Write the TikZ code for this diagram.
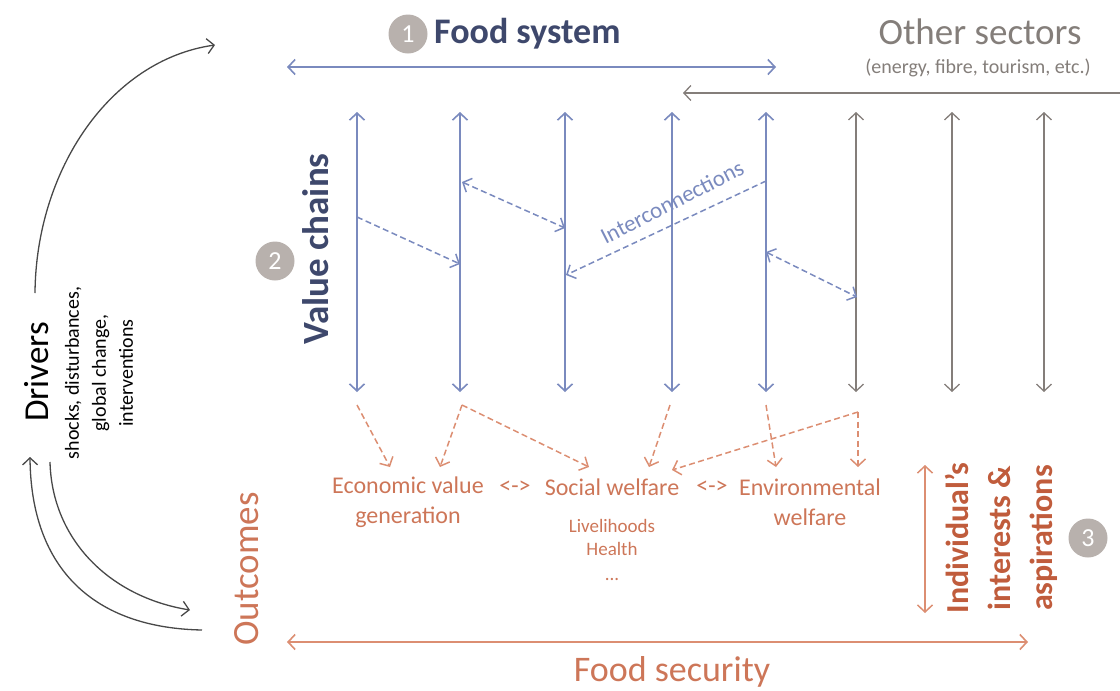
\documentclass[tikz,border=0pt]{standalone}
\usepackage{fontspec}
\setmainfont{Carlito}
\usetikzlibrary{arrows.meta}
\definecolor{cblue}{RGB}{122,138,190}
\definecolor{dblue}{RGB}{62,72,108}
\definecolor{cgray}{RGB}{132,126,122}
\definecolor{cgrayfill}{RGB}{184,177,173}
\definecolor{corange}{RGB}{220,142,114}
\definecolor{otext}{RGB}{205,118,88}
\definecolor{ored}{RGB}{192,92,60}
\definecolor{cdark}{RGB}{72,72,72}
\newcommand{\fsz}[2]{\fontsize{#1}{#2}\selectfont}
\begin{document}
\begin{tikzpicture}[x=1pt,y=-1pt,
  >={Straight Barb[length=7pt,width=15pt]},
  txt/.style={inner sep=0pt},
  num/.style={circle,fill=cgrayfill,minimum size=39pt,inner sep=0pt,text=white,font=\fsz{26}{28}},
  vblue/.style={cblue,line width=1.6pt,<->},
  vgray/.style={cgray,line width=1.3pt,<->},
  iblue/.style={cblue,line width=1.5pt,dash pattern=on 6pt off 3.5pt},
  iorange/.style={corange,line width=1.5pt,dash pattern=on 6pt off 3.5pt,->},
  curve/.style={cdark,line width=1.3pt}
]
\useasboundingbox (0,0) rectangle (1120,691);

% top titles
\node[num] (n1) at (408,34) {1};
\node[txt,anchor=west,font=\bfseries\fsz{36}{40},text=dblue] (fs) at (434,34) {Food system};
\node[txt,font=\fsz{37}{40},text=cgray] (os) at (980,32) {Other sectors};
\node[txt,font=\fsz{20}{24},text=cgray] (osx) at (978,68) {(energy, fibre, tourism, etc.)};

\coordinate (fl) at (287,67); \coordinate (fr) at (776,67);
\draw[cblue,line width=1.6pt,<->] (fl) -- (fr);
\coordinate (gr) at (1121,93); \coordinate (gl) at (683,93);
\draw[cgray,line width=1.3pt,->] (gr) -- (gl);

% vertical chains
\foreach \x/\n in {357/1,460/2,565/3,672/4,766/5}{
  \coordinate (t\n) at (\x,112); \coordinate (b\n) at (\x,392);
  \draw[vblue] (t\n) -- (b\n);
}
\foreach \x/\n in {856/6,952/7,1044/8}{
  \coordinate (t\n) at (\x,112); \coordinate (b\n) at (\x,392);
  \draw[vgray] (t\n) -- (b\n);
}

% interconnections
\coordinate (i1a) at (357,217); \coordinate (i1b) at (460,264);
\coordinate (i2a) at (462,182); \coordinate (i2b) at (565,228);
\coordinate (i3a) at (766,181); \coordinate (i3b) at (566,275);
\coordinate (i4a) at (766,252); \coordinate (i4b) at (857,297);
\draw[iblue,->] (i1a) -- (i1b);
\draw[iblue,<->] (i2a) -- (i2b);
\draw[iblue,->] (i3a) -- (i3b);
\draw[iblue,<->] (i4a) -- (i4b);
\node[txt,rotate=27,font=\fsz{23}{25},text=cblue] (ic) at (672,202) {Interconnections};

% value chains label
\node[num] (n2) at (275,261) {2};
\node[txt,rotate=90,font=\bfseries\fsz{37}{40},text=dblue] (vc) at (316,249) {Value chains};

% outcomes
\node[txt,align=center,font=\fsz{24}{30},text=otext] (econ) at (408,502) {Economic value\\generation};
\node[txt,font=\fsz{24}{30},text=otext] (lr1) at (515,487) {<->};
\node[txt,font=\fsz{24}{30},text=otext] (sw) at (612,487) {Social welfare};
\node[txt,font=\fsz{24}{30},text=otext] (lr2) at (712,487) {<->};
\node[txt,align=center,font=\fsz{24}{30},text=otext] (env) at (810,502) {Environmental\\welfare};
\node[txt,align=center,font=\fsz{19}{23},text=otext] (liv) at (612,550) {Livelihoods\\Health\\[2pt]...};

% orange dashed arrows
\coordinate (o1) at (357,405); \coordinate (o1e) at (390,467);
\coordinate (o2) at (462,405); \coordinate (o2e) at (440,467); \coordinate (o2f) at (589,467);
\coordinate (o3) at (670,405); \coordinate (o3e) at (649,467);
\coordinate (o4) at (766,405); \coordinate (o4e) at (776,467);
\coordinate (o5) at (858,412); \coordinate (o5e) at (858,467); \coordinate (o5f) at (672,470);
\draw[iorange] (o1) -- (o1e);
\draw[iorange] (o2) -- (o2e);
\draw[iorange] (o2) -- (o2f);
\draw[iorange] (o3) -- (o3e);
\draw[iorange] (o4) -- (o4e);
\draw[iorange] (o5) -- (o5e);
\draw[iorange] (o5) -- (o5f);

% individual's interests
\coordinate (ia) at (925,465); \coordinate (ib) at (925,613);
\draw[corange,line width=1.5pt,<->] (ia) -- (ib);
\node[txt,rotate=90,align=center,font=\bfseries\fsz{32}{42},text=ored] (ind) at (1001,538) {Individual’s\\interests \&\\aspirations};
\node[num] (n3) at (1088,538) {3};

% food security
\coordinate (sl) at (287,642); \coordinate (sr) at (1028,642);
\draw[corange,line width=1.6pt,<->] (sl) -- (sr);
\node[txt,font=\fsz{36}{40},text=otext] (fsec) at (672,672) {Food security};
\node[txt,rotate=90,font=\fsz{37}{40},text=otext] (out) at (247,569) {Outcomes};

% drivers
\node[txt,rotate=90,font=\fsz{35}{40},text=black] (drv) at (37,372) {Drivers};
\node[txt,rotate=90,align=center,font=\fsz{20}{27},text=black] (drvx) at (99,373) {shocks, disturbances,\\global change,\\interventions};

\coordinate (c1a) at (35,293); \coordinate (c1b) at (215,45);
\draw[curve,->] (c1a) .. controls (36,170) and (110,60) .. (c1b);
\coordinate (c2a) at (202,630); \coordinate (c2b) at (30,457);
\draw[curve,->] (c2a) .. controls (95,628) and (31,570) .. (c2b);
\coordinate (c3a) at (50,462); \coordinate (c3b) at (190,610);
\draw[curve,->] (c3a) .. controls (52,540) and (110,597) .. (c3b);
\end{tikzpicture}
\end{document}
